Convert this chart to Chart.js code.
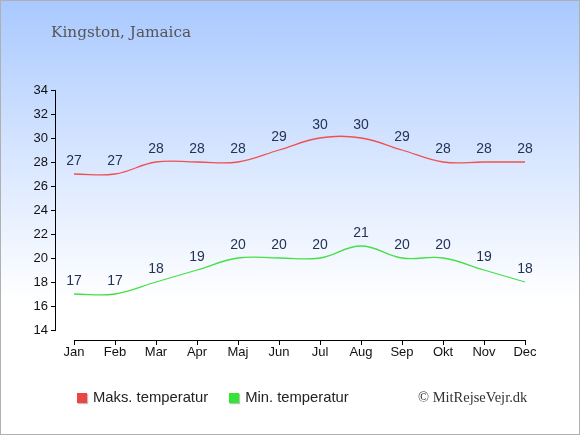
<!DOCTYPE html>
<html>
<head>
<meta charset="utf-8">
<script src="https://cdn.jsdelivr.net/npm/chart.js@4/dist/chart.umd.min.js"></script>
<style>
  html,body{margin:0;padding:0;}
  #wrap{position:relative;width:580px;height:435px;box-sizing:border-box;border:1px solid #b0b0b0;
    background:linear-gradient(to bottom,#a9c9ff 0px,#d6e5ff 150px,#ffffff 300px,#ffffff 435px);overflow:hidden;}
  #c{position:absolute;left:-1px;top:-1px;}
  #title{position:absolute;left:50px;top:22px;font-family:"DejaVu Serif",serif;font-size:15.3px;color:#555;white-space:nowrap;}
  #legend{position:absolute;left:76px;top:388px;font-family:"Liberation Sans",Arial,sans-serif;font-size:14.8px;color:#222;white-space:nowrap;}
  #legend span.item{display:inline-block;margin-right:21px;}
  #legend span.box{display:inline-block;width:10px;height:10px;margin-right:6px;vertical-align:-1px;box-shadow:1px 1px 1px rgba(0,0,0,0.25);}
  #copy{position:absolute;left:417px;top:388px;font-family:"Liberation Serif","Times New Roman",serif;font-size:14.5px;color:#333;white-space:nowrap;}
</style>
</head>
<body>
<div id="wrap">
  <canvas id="c" width="580" height="435"></canvas>
  <div id="title">Kingston, Jamaica</div>
  <div id="legend"></div>
  <div id="copy">© MitRejseVejr.dk</div>
</div>
<script>
const months = ["Jan","Feb","Mar","Apr","Maj","Jun","Jul","Aug","Sep","Okt","Nov","Dec"];
const maxTemp = [27,27,28,28,28,29,30,30,29,28,28,28];
const minTemp = [17,17,18,19,20,20,20,21,20,20,19,18];
const yTicks = [14,16,18,20,22,24,26,28,30,32,34];
const seriesNames = ["Maks. temperatur","Min. temperatur"];
const lineColors = ["#f05050","#44e044"];
const boxColors = ["#ee4444","#33e633"];

const axesPlugin = {
  id:'axesPlugin',
  afterDraw(chart){
    const ctx = chart.ctx, x = chart.scales.x, y = chart.scales.y;
    const yTop = y.getPixelForValue(yTicks[yTicks.length-1]);
    const yBot = y.getPixelForValue(yTicks[0]);
    const axX = x.getPixelForValue(0) - 19;
    const axY = yBot + 10;
    ctx.save();
    ctx.strokeStyle = '#000'; ctx.lineWidth = 1;
    ctx.beginPath();
    ctx.moveTo(Math.round(axX)+0.5, yTop); ctx.lineTo(Math.round(axX)+0.5, yBot);
    yTicks.forEach(v=>{const py=Math.round(y.getPixelForValue(v))+0.5; ctx.moveTo(axX-4,py); ctx.lineTo(axX+1,py);});
    ctx.moveTo(x.getPixelForValue(0), Math.round(axY)+0.5); ctx.lineTo(x.getPixelForValue(months.length-1), Math.round(axY)+0.5);
    months.forEach((m,i)=>{const px=Math.round(x.getPixelForValue(i))+0.5; ctx.moveTo(px,axY); ctx.lineTo(px,axY+5);});
    ctx.stroke();
    // data labels
    ctx.fillStyle = '#223355';
    ctx.font = '14px "Liberation Sans", Arial, sans-serif';
    ctx.textAlign = 'center'; ctx.textBaseline = 'middle';
    chart.data.datasets.forEach((ds,di)=>{
      const meta = chart.getDatasetMeta(di);
      meta.data.forEach((pt,i)=>{ ctx.fillText(String(ds.data[i]), pt.x, pt.y - 12.5); });
    });
    ctx.restore();
  }
};

const chart = new Chart(document.getElementById('c'), {
  type:'line',
  data:{
    labels: months,
    datasets:[
      {label:seriesNames[0], data:maxTemp, borderColor:lineColors[0], borderWidth:1.3, tension:0.4, pointRadius:0, fill:false},
      {label:seriesNames[1], data:minTemp, borderColor:lineColors[1], borderWidth:1.3, tension:0.4, pointRadius:0, fill:false}
    ]
  },
  options:{
    responsive:false, animation:false, devicePixelRatio:1,
    layout:{padding:{left:0,right:55,top:90,bottom:75}},
    plugins:{legend:{display:false}, tooltip:{enabled:false}, title:{display:false}},
    scales:{
      x:{type:'category', offset:false, grid:{display:false, drawTicks:false}, border:{display:false},
         ticks:{color:'#111', font:{family:'"Liberation Sans", Arial, sans-serif', size:13}, padding:15, maxRotation:0, autoSkip:false},
         afterFit(s){ s.height = 30; }},
      y:{min:14, max:34, grid:{display:false, drawTicks:false}, border:{display:false},
         afterBuildTicks(s){ s.ticks = yTicks.map(v=>({value:v})); },
         ticks:{color:'#111', font:{family:'"Liberation Sans", Arial, sans-serif', size:13}, padding:26},
         afterFit(s){ s.width = 74; }}
    }
  },
  plugins:[axesPlugin]
});

const lg = document.getElementById('legend');
seriesNames.forEach((n,i)=>{
  const it = document.createElement('span'); it.className='item';
  const b = document.createElement('span'); b.className='box'; b.style.background = boxColors[i];
  it.appendChild(b); it.appendChild(document.createTextNode(n)); lg.appendChild(it);
});
</script>
</body>
</html>
